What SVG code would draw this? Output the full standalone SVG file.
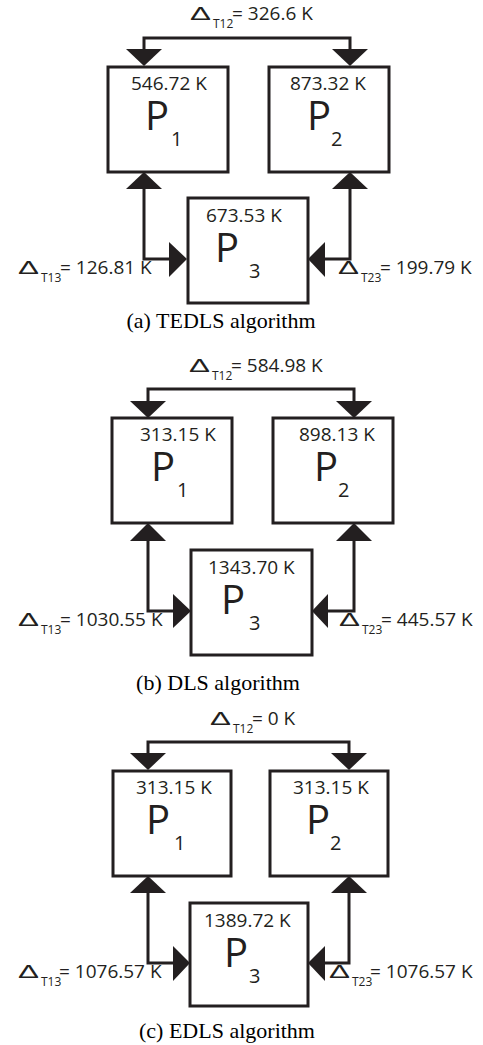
<svg xmlns="http://www.w3.org/2000/svg" width="483" height="1045" viewBox="0 0 483 1045">
<style>
.box{fill:#fff;stroke:#231f20;stroke-width:3}
.wire{fill:none;stroke:#231f20;stroke-width:3}
.head{fill:#231f20}
.t{font-family:"Open Sans","Liberation Sans",sans-serif;fill:#231f20}
.lbl{font-size:19px}
.big{font-size:40px}
.sub{font-size:20px}
.dl{font-family:"Liberation Sans","Open Sans",sans-serif;font-size:19px;fill:#231f20}
.ts{font-size:12px}
.cap{font-family:"Liberation Serif",serif;font-size:22px;fill:#000;text-anchor:middle}
</style>
<rect width="483" height="1045" fill="#fff"/>

<!-- Panel (a) -->
<g id="connectors-a">
<path class="wire" d="M144,50 V38 H350 V50"/>
<polygon class="head" points="126,49 162,49 144,66"/>
<polygon class="head" points="332,49 368,49 350,66"/>
<path class="wire" d="M144,188 V259 H170"/>
<polygon class="head" points="126,189 162,189 144,172"/>
<polygon class="head" points="169,242 169,277 187,259"/>
<path class="wire" d="M350,188 V259 H324"/>
<polygon class="head" points="332,189 368,189 350,172"/>
<polygon class="head" points="325,242 325,277 308,259"/>
</g>
<g id="title-a">
<text class="dl" x="190" y="20" textLength="21" lengthAdjust="spacingAndGlyphs">Δ</text>
<text class="t ts" x="213" y="28">T12</text>
<text class="t lbl" x="232" y="20">= 326.6 K</text>
</g>
<g id="a-P1"><rect class="box" x="108" y="67" width="120" height="105"/>
<text class="t lbl" x="131" y="90">546.72 K</text><text class="t big" x="145" y="130">P</text><text class="t sub" x="171" y="146">1</text></g>
<g id="a-P2"><rect class="box" x="269" y="67" width="120" height="105"/>
<text class="t lbl" x="290" y="90">873.32 K</text><text class="t big" x="307" y="130">P</text><text class="t sub" x="331" y="146">2</text></g>
<g id="a-P3"><rect class="box" x="188" y="198" width="120" height="105"/>
<text class="t lbl" x="206" y="222">673.53 K</text><text class="t big" x="215" y="262">P</text><text class="t sub" x="249" y="278">3</text></g>
<g id="a-d13">
<text class="dl" x="18" y="274" textLength="21" lengthAdjust="spacingAndGlyphs">Δ</text>
<text class="t ts" x="41" y="282">T13</text>
<text class="t lbl" x="60" y="274">= 126.81 K</text>
</g>
<g id="a-d23">
<text class="dl" x="338" y="274" textLength="21" lengthAdjust="spacingAndGlyphs">Δ</text>
<text class="t ts" x="361" y="282">T23</text>
<text class="t lbl" x="380" y="274">= 199.79 K</text>
</g>
<text class="cap" x="221" y="328">(a) TEDLS algorithm</text>

<!-- Panel (b) -->
<g id="connectors-b">
<path class="wire" d="M148,402 V389 H354 V402"/>
<polygon class="head" points="130,401 166,401 148,418"/>
<polygon class="head" points="336,401 372,401 354,418"/>
<path class="wire" d="M148,540 V611 H174"/>
<polygon class="head" points="130,541 166,541 148,523"/>
<polygon class="head" points="173,594 173,628 191,611"/>
<path class="wire" d="M354,540 V611 H327"/>
<polygon class="head" points="336,541 372,541 354,523"/>
<polygon class="head" points="328,594 328,628 312,611"/>
</g>
<g id="title-b">
<text class="dl" x="189" y="372" textLength="21" lengthAdjust="spacingAndGlyphs">Δ</text>
<text class="t ts" x="212" y="380">T12</text>
<text class="t lbl" x="231" y="372">= 584.98 K</text>
</g>
<g id="b-P1"><rect class="box" x="112" y="418" width="120" height="105"/>
<text class="t lbl" x="140" y="441">313.15 K</text><text class="t big" x="151" y="481">P</text><text class="t sub" x="177" y="497">1</text></g>
<g id="b-P2"><rect class="box" x="273" y="418" width="120" height="105"/>
<text class="t lbl" x="299" y="441">898.13 K</text><text class="t big" x="314" y="481">P</text><text class="t sub" x="338" y="497">2</text></g>
<g id="b-P3"><rect class="box" x="191" y="550" width="121" height="105"/>
<text class="t lbl" x="208" y="574">1343.70 K</text><text class="t big" x="221" y="614">P</text><text class="t sub" x="249" y="630">3</text></g>
<g id="b-d13">
<text class="dl" x="18" y="626" textLength="21" lengthAdjust="spacingAndGlyphs">Δ</text>
<text class="t ts" x="41" y="634">T13</text>
<text class="t lbl" x="60" y="626">= 1030.55 K</text>
</g>
<g id="b-d23">
<text class="dl" x="339" y="626" textLength="21" lengthAdjust="spacingAndGlyphs">Δ</text>
<text class="t ts" x="362" y="634">T23</text>
<text class="t lbl" x="381" y="626">= 445.57 K</text>
</g>
<text class="cap" x="218" y="690">(b) DLS algorithm</text>

<!-- Panel (c) -->
<g id="connectors-c">
<path class="wire" d="M148,755 V742 H349 V755"/>
<polygon class="head" points="130,753 166,753 148,770"/>
<polygon class="head" points="331,753 367,753 349,770"/>
<path class="wire" d="M148,892 V963 H174"/>
<polygon class="head" points="130,893 166,893 148,876"/>
<polygon class="head" points="173,946 173,981 190,963"/>
<path class="wire" d="M349,892 V963 H324"/>
<polygon class="head" points="331,893 367,893 349,876"/>
<polygon class="head" points="325,946 325,981 308,963"/>
</g>
<g id="title-c">
<text class="dl" x="210" y="725" textLength="21" lengthAdjust="spacingAndGlyphs">Δ</text>
<text class="t ts" x="233" y="733">T12</text>
<text class="t lbl" x="252" y="725">= 0 K</text>
</g>
<g id="c-P1"><rect class="box" x="113" y="771" width="118" height="105"/>
<text class="t lbl" x="136" y="794">313.15 K</text><text class="t big" x="146" y="834">P</text><text class="t sub" x="174" y="850">1</text></g>
<g id="c-P2"><rect class="box" x="270" y="771" width="118" height="105"/>
<text class="t lbl" x="293" y="794">313.15 K</text><text class="t big" x="306" y="834">P</text><text class="t sub" x="330" y="850">2</text></g>
<g id="c-P3"><rect class="box" x="190" y="903" width="118" height="103"/>
<text class="t lbl" x="204" y="927">1389.72 K</text><text class="t big" x="224" y="967">P</text><text class="t sub" x="249" y="983">3</text></g>
<g id="c-d13">
<text class="dl" x="18" y="978" textLength="21" lengthAdjust="spacingAndGlyphs">Δ</text>
<text class="t ts" x="41" y="986">T13</text>
<text class="t lbl" x="59" y="978">= 1076.57 K</text>
</g>
<g id="c-d23">
<text class="dl" x="329" y="978" textLength="21" lengthAdjust="spacingAndGlyphs">Δ</text>
<text class="t ts" x="352" y="986">T23</text>
<text class="t lbl" x="370" y="978">= 1076.57 K</text>
</g>
<text class="cap" x="227" y="1038">(c) EDLS algorithm</text>
</svg>
